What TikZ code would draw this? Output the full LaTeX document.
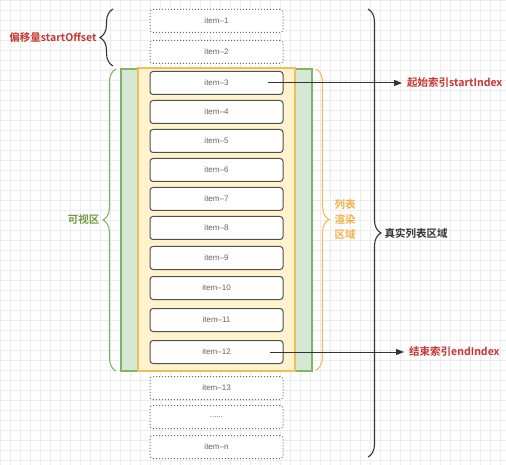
\documentclass[tikz,border=0pt]{standalone}
\usepackage{fontspec}
\setmainfont{Liberation Sans}
\newfontfamily\cjk{Noto Sans CJK SC}[BoldFont={Noto Sans CJK SC Bold}]
\usetikzlibrary{arrows.meta}
\usetikzlibrary{positioning}
\usetikzlibrary{decorations.pathreplacing}

\definecolor{gridgray}{RGB}{236,236,236}
\definecolor{itemline}{RGB}{80,80,80}
\definecolor{itemtext}{RGB}{100,100,100}
\definecolor{ghostline}{RGB}{110,110,110}
\definecolor{viewline}{RGB}{130,179,102}
\definecolor{viewfill}{RGB}{213,232,212}
\definecolor{viewtext}{RGB}{110,155,60}
\definecolor{renderline}{RGB}{240,190,90}
\definecolor{renderfill}{RGB}{255,242,204}
\definecolor{rendertext}{RGB}{242,176,72}
\definecolor{idxred}{RGB}{200,52,48}
\definecolor{darkline}{RGB}{51,51,51}

\begin{document}
\begin{tikzpicture}[x=1pt,y=-1pt,
    itembox/.style={draw=itemline, fill=white, rounded corners=3pt, line width=1pt,
      minimum width=133pt, minimum height=23pt, inner sep=0pt,
      text=itemtext, font=\fontsize{8}{9}\selectfont},
    ghostbox/.style={itembox, draw=ghostline, dotted},
    brc/.style={decorate, decoration={brace, amplitude=13pt}, line width=1.1pt},
    lbl/.style={font=\cjk\bfseries\fontsize{10.5}{15}\selectfont},
    arr/.style={-{Triangle[length=8pt,width=6pt]}, line width=1pt, draw=darkline}]

      \useasboundingbox (0,0) rectangle (506,465);
      \draw[gridgray, line width=0.5pt, step=10pt] (0,0) grid (506,465);

      % visible area and rendered area
      \draw[viewline, fill=viewfill, line width=1.2pt] (121,69) rectangle (312,371);
      \draw[renderline, fill=renderfill, line width=1.2pt] (138,68) rectangle (295,371);

      % list items
      \node[ghostbox] (item1) at (216.5,21) {item--1};
      \node[ghostbox] (item2) at (216.5,52) {item--2};
      \node[itembox] (item3) at (216.5,83) {item--3};
      \node[itembox] (item4) at (216.5,112) {item--4};
      \node[itembox] (item5) at (216.5,141) {item--5};
      \node[itembox] (item6) at (216.5,170) {item--6};
      \node[itembox] (item7) at (216.5,199) {item--7};
      \node[itembox] (item8) at (216.5,228) {item--8};
      \node[itembox] (item9) at (216.5,258) {item--9};
      \node[itembox] (item10) at (216.5,288) {item--10};
      \node[itembox] (item11) at (216.5,320) {item--11};
      \node[itembox] (item12) at (216.5,352) {item--12};
      \node[ghostbox] (item13) at (216.5,388) {item--13};
      \node[ghostbox] (itemdots) at (216.5,417) {......};
      \node[ghostbox] (itemn) at (216.5,447) {item--n};

      % braces
      \coordinate (offA) at (113,66);
      \coordinate (offB) at (113,9);
      \coordinate (offtip) at (100,37.5);
      \draw[brc, darkline] (offA) -- (offB);
      \node[lbl, text=idxred, left=0pt of offtip] (offset) {偏移量startOffset};

      \coordinate (viewA) at (116,371);
      \coordinate (viewB) at (116,69);
      \coordinate (viewtip) at (103,220);
      \draw[brc, viewline] (viewA) -- (viewB);
      \node[lbl, text=viewtext, left=0pt of viewtip] (view) {可视区};

      \coordinate (renderA) at (316,69);
      \coordinate (renderB) at (316,370);
      \coordinate (rendertip) at (329,219.5);
      \draw[brc, renderline] (renderA) -- (renderB);
      \node[lbl, text=rendertext, align=center, right=2pt of rendertip] (render) {列表\\渲染\\区域};

      \coordinate (realA) at (368,9);
      \coordinate (realB) at (368,457);
      \coordinate (realtip) at (381,233);
      \draw[brc, darkline] (realA) -- (realB);
      \node[lbl, text=darkline, right=0pt of realtip] (real) {真实列表区域};

      % start and end index
      \node[lbl, text=idxred, anchor=west, inner sep=4pt] (startidx) at (403,83) {起始索引startIndex};
      \node[lbl, text=idxred, anchor=west, inner sep=4pt] (endidx) at (405,352) {结束索引endIndex};
      \draw[arr, shorten >=1pt] ([xshift=51.5pt]item3.center) -- (startidx.west);
      \draw[arr, shorten >=1pt] ([xshift=53.5pt]item12.center) -- (endidx.west);
    \end{tikzpicture}
\end{document}
